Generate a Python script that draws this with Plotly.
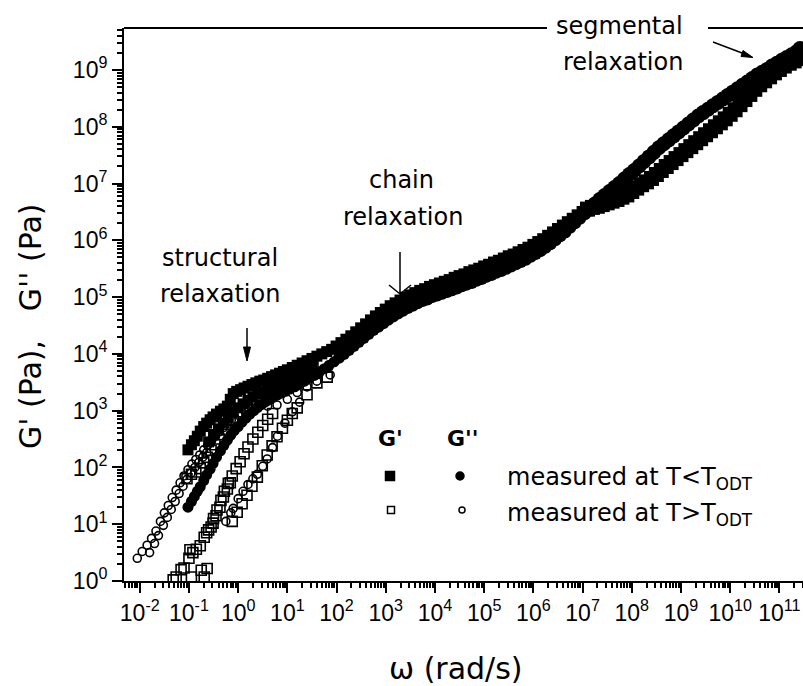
import plotly.graph_objects as go

# ---------------- data (log10 values) ----------------
# G' measured at T<T_ODT (filled squares)
FS_LOGW = [-1.02, -0.95, -0.89, -0.83, -0.77, -0.70, -0.64, -0.57, -0.51, -0.44, -0.36, -0.29, -0.22, -0.16,
           -0.10, -0.03, 0.05, 0.12, 0.20, 0.28, 0.36, 0.44, 0.52, 0.60, 0.68, 0.76, 0.84, 0.92, 1.00, 1.10,
           1.20, 1.30, 1.40, 1.50, 1.60, 1.70, 1.80, 1.90, 2.00, 2.10, 2.20, 2.30, 2.40, 2.50, 2.60, 2.70,
           2.80, 2.90, 3.00, 3.10, 3.20, 3.30, 3.40, 3.50, 3.60, 3.70, 3.80, 3.90, 4.00, 4.10, 4.20, 4.30,
           4.40, 4.50, 4.60, 4.70, 4.80, 4.90, 5.00, 5.10, 5.20, 5.30, 5.40, 5.50, 5.60, 5.70, 5.80, 5.90,
           6.00, 6.10, 6.20, 6.30, 6.40, 6.50, 6.60, 6.70, 6.80, 6.90, 7.00, 7.10, 7.20, 7.30, 7.40, 7.50,
           7.60, 7.70, 7.80, 7.90, 8.00, 8.10, 8.20, 8.30, 8.40, 8.50, 8.60, 8.70, 8.80, 8.90, 9.00, 9.10,
           9.20, 9.30, 9.40, 9.50, 9.60, 9.70, 9.80, 9.90, 10.00, 10.10, 10.20, 10.30, 10.40, 10.50, 10.60,
           10.70, 10.80, 10.90, 11.00, 11.10, 11.20, 11.30, 11.40]
FS_LOGG = [2.31, 2.40, 2.47, 2.55, 2.64, 2.72, 2.78, 2.84, 2.89, 2.94, 2.99, 3.03, 3.08, 3.20,
           3.30, 3.34, 3.37, 3.40, 3.43, 3.46, 3.49, 3.52, 3.54, 3.57, 3.60, 3.63, 3.66, 3.69, 3.72, 3.76,
           3.80, 3.84, 3.88, 3.92, 3.96, 4.00, 4.04, 4.08, 4.13, 4.19, 4.25, 4.31, 4.38, 4.45, 4.52, 4.59,
           4.66, 4.72, 4.78, 4.84, 4.89, 4.94, 4.99, 5.03, 5.07, 5.11, 5.14, 5.18, 5.21, 5.24, 5.27, 5.30,
           5.34, 5.37, 5.40, 5.44, 5.47, 5.50, 5.54, 5.57, 5.61, 5.64, 5.68, 5.72, 5.75, 5.79, 5.83, 5.87,
           5.92, 5.97, 6.02, 6.08, 6.14, 6.20, 6.26, 6.32, 6.38, 6.44, 6.50, 6.55, 6.58, 6.60, 6.63, 6.66,
           6.69, 6.72, 6.76, 6.80, 6.86, 6.92, 6.98, 7.03, 7.09, 7.16, 7.23, 7.30, 7.37, 7.44, 7.51, 7.58,
           7.65, 7.72, 7.79, 7.86, 7.93, 8.00, 8.07, 8.14, 8.22, 8.30, 8.39, 8.48, 8.57, 8.66, 8.74,
           8.81, 8.88, 8.95, 9.01, 9.07, 9.12, 9.16, 9.20]
# second (shifted) set of filled squares in the structural-relaxation region
FS2_LOGW = [-0.60, -0.50, -0.40, -0.30, -0.20, -0.10, 0.00, 0.10, 0.20, 0.30, 0.40, 0.50, 0.60, 0.70,
            0.80, 0.90, 1.00, 1.10, 1.20, 1.30, 1.40, 1.50]
FS2_LOGG = [2.45, 2.58, 2.68, 2.78, 2.88, 2.97, 3.05, 3.12, 3.18, 3.24, 3.29, 3.33, 3.37, 3.41,
            3.45, 3.49, 3.53, 3.58, 3.62, 3.66, 3.70, 3.75]

# G'' measured at T<T_ODT (filled circles)
FC_LOGW = [-1.02, -0.95, -0.89, -0.83, -0.77, -0.70, -0.64, -0.57, -0.51, -0.44, -0.36, -0.29, -0.22, -0.15,
           -0.08, 0.00, 0.08, 0.16, 0.24, 0.32, 0.40, 0.48, 0.56, 0.64, 0.72, 0.80, 0.88, 0.96, 1.05, 1.15,
           1.25, 1.35, 1.45, 1.55, 1.65, 1.75, 1.85, 1.95, 2.05, 2.15, 2.25, 2.35, 2.45, 2.55, 2.65, 2.75,
           2.85, 2.95, 3.05, 3.15, 3.25, 3.35, 3.45, 3.55, 3.65, 3.75, 3.85, 3.95, 4.05, 4.15, 4.25, 4.35,
           4.45, 4.55, 4.65, 4.75, 4.85, 4.95, 5.05, 5.15, 5.25, 5.35, 5.45, 5.55, 5.65, 5.75, 5.85, 5.95,
           6.05, 6.15, 6.25, 6.35, 6.45, 6.55, 6.65, 6.75, 6.85, 6.95, 7.05, 7.15, 7.25, 7.35, 7.45, 7.55,
           7.65, 7.75, 7.85, 7.95, 8.05, 8.15, 8.25, 8.35, 8.45, 8.55, 8.65, 8.75, 8.85, 8.95, 9.05, 9.15,
           9.25, 9.35, 9.45, 9.55, 9.65, 9.75, 9.85, 9.95, 10.05, 10.15, 10.25, 10.35, 10.45, 10.55, 10.65,
           10.75, 10.85, 10.95, 11.05, 11.15, 11.25, 11.35, 11.42]
FC_LOGG = [1.30, 1.40, 1.49, 1.58, 1.66, 1.77, 1.87, 1.97, 2.07, 2.18, 2.29, 2.39, 2.48, 2.57,
           2.65, 2.72, 2.80, 2.87, 2.94, 3.00, 3.06, 3.11, 3.16, 3.20, 3.24, 3.28, 3.31, 3.34, 3.38, 3.42,
           3.47, 3.52, 3.57, 3.62, 3.68, 3.74, 3.80, 3.86, 3.93, 4.00, 4.07, 4.14, 4.21, 4.28, 4.35, 4.42,
           4.48, 4.54, 4.60, 4.66, 4.71, 4.76, 4.81, 4.85, 4.89, 4.93, 4.96, 5.00, 5.03, 5.06, 5.09, 5.12,
           5.15, 5.19, 5.22, 5.25, 5.29, 5.32, 5.36, 5.39, 5.43, 5.46, 5.50, 5.54, 5.58, 5.62, 5.66, 5.71,
           5.76, 5.81, 5.87, 5.93, 6.00, 6.07, 6.14, 6.22, 6.30, 6.38, 6.46, 6.55, 6.64, 6.72, 6.79, 6.86,
           6.93, 7.00, 7.08, 7.16, 7.23, 7.31, 7.39, 7.47, 7.55, 7.63, 7.70, 7.77, 7.84, 7.91, 7.98, 8.05,
           8.12, 8.19, 8.25, 8.31, 8.37, 8.43, 8.49, 8.55, 8.61, 8.67, 8.73, 8.79, 8.85, 8.91, 8.96,
           9.01, 9.07, 9.12, 9.17, 9.22, 9.27, 9.32, 9.38]

# G'' measured at T>T_ODT (open circles)
OC_LOGW = [-2.05, -1.95, -1.85, -1.76, -1.67, -1.58, -1.50, -1.42, -1.34, -1.26, -1.18, -1.10, -1.02, -0.94,
           -0.86, -0.78, -0.70, -0.62, -0.54, -0.46, -0.38, -0.30, -0.22, -0.14,
           -1.80, -1.70, -1.62, -1.52, -1.44, -1.36, -1.28, -1.20, -1.12, -1.04, -0.96, -0.88, -0.80, -0.72, -0.64,
           0.00, 0.20, 0.40, 0.60, 0.79, 1.00, 1.20, 1.40, 1.60, 1.87,
           -0.25, -0.15, -0.10, 0.00, 0.10, 0.20, 0.30, 0.39, 0.50, 0.59, 0.70, 0.80, 0.95, 1.10, 1.25]
OC_LOGG = [0.40, 0.52, 0.63, 0.75, 0.88, 1.05, 1.20, 1.33, 1.47, 1.60, 1.73, 1.85, 1.96, 2.06,
           2.14, 2.22, 2.31, 2.39, 2.47, 2.55, 2.63, 2.70, 2.77, 2.83,
           0.50, 0.66, 0.80, 0.98, 1.12, 1.26, 1.40, 1.54, 1.67, 1.79, 1.90, 2.00, 2.09, 2.18, 2.26,
           2.92, 3.00, 3.05, 3.08, 3.10, 3.20, 3.32, 3.42, 3.52, 3.63,
           1.05, 1.20, 1.28, 1.45, 1.58, 1.70, 1.80, 1.88, 2.02, 2.15, 2.35, 2.55, 2.78, 2.98, 3.15]

# G' measured at T>T_ODT (open squares)
OS_LOGW = [-1.04, -0.95, -0.86, -0.77, -0.70, -0.63, -0.55, -0.47, -0.38, -0.30, -0.22, -0.10, 0.04, 0.18,
           0.30, 0.45, 0.59, 0.79, 1.00, 1.25, 1.52,
           -0.69, -0.60, -0.50, -0.43, -0.35, -0.28, -0.20, -0.12, -0.04, 0.04, 0.12, 0.20, 0.30, 0.40,
           0.50, 0.60, 0.70,
           -0.12, -0.02, 0.08, 0.18, 0.28, 0.39, 0.49, 0.59, 0.69, 0.79, 0.90, 1.00, 1.10, 1.20, 1.40,
           1.60, 1.81,
           -1.32, -1.26, -1.16, -1.10, -1.00, -0.95, -0.92, -0.85, -0.77, -0.75, -0.69, -0.63, -0.98,
           -0.64, -0.55, -0.51, -0.45, -0.37, -0.30, -0.22, -0.16]
OS_LOGG = [1.80, 1.88, 1.92, 1.98, 2.08, 2.18, 2.30, 2.40, 2.50, 2.58, 2.66, 2.83, 2.98, 3.04,
           3.08, 3.18, 3.26, 3.36, 3.50, 3.68, 3.84,
           0.77, 0.90, 1.10, 1.25, 1.42, 1.58, 1.72, 1.85, 1.98, 2.10, 2.24, 2.36, 2.50, 2.62,
           2.74, 2.85, 2.95,
           1.05, 1.21, 1.36, 1.51, 1.67, 1.83, 2.03, 2.22, 2.38, 2.54, 2.69, 2.83, 2.95, 3.05, 3.28,
           3.49, 3.59,
           0.02, 0.07, 0.20, 0.23, 0.40, 0.07, 0.50, 0.56, 0.62, 0.19, 0.07, 0.22, 0.55,
           0.85, 0.95, 1.02, 1.15, 1.30, 1.48, 1.62, 1.73]

X_TICK_EXP = list(range(-2, 12))
Y_TICK_EXP = list(range(0, 10))

# ---------------- figure ----------------
W, H = 803, 686
L, R, T, B = 124, 803, 28, 581


def lin(v):
    return [10 ** e for e in v]


def px(x):
    return (x - L) / (R - L)


def py(y):
    return (B - y) / (B - T)


def msize(logw):
    # marker drawing size: the overlapping sets make the band thicker at high frequency
    return [11 if w < 2 else (12 if w < 7.1 else 15) for w in logw]


fig = go.Figure()
fig.add_trace(go.Scatter(x=lin(OS_LOGW), y=lin(OS_LOGG), mode="markers",
                         marker=dict(symbol="square-open", size=10, color="black", opacity=1,
                                     line=dict(width=1.6, color="black")),
                         showlegend=False))
fig.add_trace(go.Scatter(x=lin(OC_LOGW), y=lin(OC_LOGG), mode="markers",
                         marker=dict(symbol="circle-open", size=8, color="black", opacity=1,
                                     line=dict(width=1.6, color="black")),
                         showlegend=False))
fs_w = FS_LOGW + FS2_LOGW
fs_g = FS_LOGG + FS2_LOGG
fig.add_trace(go.Scatter(x=lin(fs_w), y=lin(fs_g), mode="markers",
                         marker=dict(symbol="square", size=msize(fs_w), color="black", opacity=1,
                                     line=dict(width=0)),
                         showlegend=False))
fig.add_trace(go.Scatter(x=lin(FC_LOGW), y=lin(FC_LOGG), mode="markers",
                         marker=dict(symbol="circle", size=msize(FC_LOGW), color="black", opacity=1,
                                     line=dict(width=0)),
                         showlegend=False))

minor_vals = [m * 10 ** e for e in range(-3, 12) for m in range(2, 10)]

axis_common = dict(type="log", tickmode="array",
                   ticks="outside", ticklen=10, tickwidth=2, tickcolor="black",
                   minor=dict(tickmode="array", tickvals=minor_vals, ticks="outside", ticklen=5,
                              tickwidth=1.5, tickcolor="black", showgrid=False),
                   showline=True, linewidth=2, linecolor="black", mirror=False,
                   showgrid=False, zeroline=False,
                   tickfont=dict(family="Liberation Sans, Arial", size=23, color="black"))
fig.update_xaxes(range=[-2.32, 11.48], tickvals=[10 ** e for e in X_TICK_EXP],
                 ticktext=["10<sup>%d</sup>" % e for e in X_TICK_EXP], **axis_common)
fig.update_yaxes(range=[0, 9.74], tickvals=[10 ** e for e in Y_TICK_EXP],
                 ticktext=["10<sup>%d</sup>" % e for e in Y_TICK_EXP], **axis_common)

FONT = "DejaVu Sans"
ann = []


def text(x, y, s, size=24, xanchor="center", angle=0):
    ann.append(dict(x=px(x), y=py(y), xref="paper", yref="paper", text=s, showarrow=False,
                    xanchor=xanchor, yanchor="middle", textangle=angle,
                    font=dict(family=FONT, size=size, color="black")))


text(220, 258, "structural")
text(220, 294, "relaxation")
text(401, 180, "chain")
text(403, 217, "relaxation")
text(619, 26, "segmental")
text(623, 62, "relaxation")
text(390, 438, "<b>G'</b>", size=22)
text(463, 438, "<b>G''</b>", size=22)
text(505, 478, "measured at T&lt;T<sub>ODT</sub>", xanchor="left")
text(505, 514, "measured at T&gt;T<sub>ODT</sub>", xanchor="left")
text(456, 668, "ω (rad/s)", size=30)
text(30, 326, "G' (Pa),&nbsp;&nbsp;&nbsp;G'' (Pa)", size=30, angle=-90)

shapes = []


def seg(x0, y0, x1, y1, w=2):
    shapes.append(dict(type="line", xref="paper", yref="paper", x0=px(x0), y0=py(y0), x1=px(x1), y1=py(y1),
                       line=dict(color="black", width=w)))


def poly(pts):
    d = "M " + " L ".join("%f,%f" % (px(a), py(b)) for a, b in pts) + " Z"
    shapes.append(dict(type="path", xref="paper", yref="paper", path=d,
                       fillcolor="black", line=dict(color="black", width=1)))


# partial top frame
seg(124, 28, 547, 28)
seg(708, 28, 803, 28)
# structural arrow
seg(247, 328, 247, 352, 1.5)
poly([(243.5, 347), (247, 361), (250.5, 347)])
# chain arrow (open head)
seg(400, 252, 400, 294, 1.5)
seg(389, 285, 400, 294, 1.5)
seg(411, 285, 400, 294, 1.5)
# segmental arrow
seg(713, 42, 746, 54.5, 1.5)
poly([(743, 50.5), (753, 57.5), (741, 56.5)])


# legend symbols
def rect(cx, cy, s, filled):
    shapes.append(dict(type="rect", xref="paper", yref="paper",
                       x0=px(cx - s / 2), x1=px(cx + s / 2), y0=py(cy + s / 2), y1=py(cy - s / 2),
                       fillcolor="black" if filled else "rgba(0,0,0,0)", line=dict(color="black", width=1.5)))


def circ(cx, cy, s, filled):
    shapes.append(dict(type="circle", xref="paper", yref="paper",
                       x0=px(cx - s / 2), x1=px(cx + s / 2), y0=py(cy + s / 2), y1=py(cy - s / 2),
                       fillcolor="black" if filled else "rgba(0,0,0,0)", line=dict(color="black", width=1.5)))


rect(390, 476, 9, True)
circ(460, 476, 8, True)
rect(391, 510, 7, False)
circ(462, 510, 6, False)

fig.update_layout(width=W, height=H, margin=dict(l=L, r=W - R, t=T, b=H - B),
                  paper_bgcolor="white", plot_bgcolor="white",
                  annotations=ann, shapes=shapes, showlegend=False)

fig.write_html("out.html")
